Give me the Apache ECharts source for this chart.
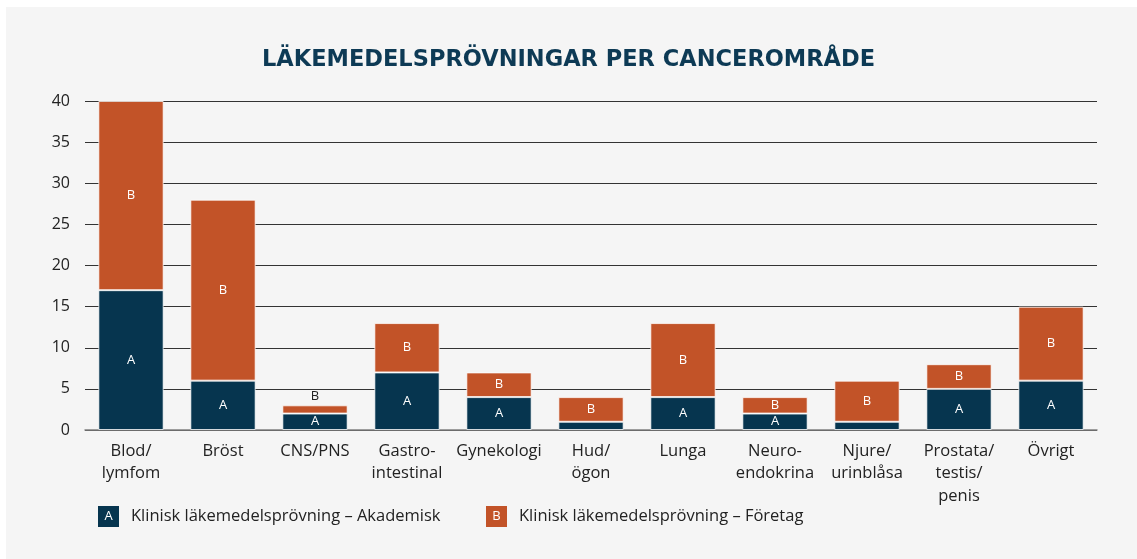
<!DOCTYPE html>
<html>
<head>
<meta charset="utf-8">
<script src="https://cdn.jsdelivr.net/npm/echarts@6/dist/echarts.min.js"></script>
<style>
html,body{margin:0;padding:0;background:#ffffff;}
#panel{position:absolute;left:6px;top:7px;width:1131px;height:552px;background:#f5f5f5;}
#chart{position:absolute;left:0;top:0;width:1137px;height:559px;}
</style>
</head>
<body>
<div id="panel"></div>
<div id="chart"></div>
<script>
const titleText = 'LÄKEMEDELSPRÖVNINGAR PER CANCEROMRÅDE';
const categories = ['Blod/\nlymfom', 'Bröst', 'CNS/PNS', 'Gastro-\nintestinal', 'Gynekologi', 'Hud/\nögon', 'Lunga', 'Neuro-\nendokrina', 'Njure/\nurinblåsa', 'Prostata/\ntestis/\npenis', 'Övrigt'];
const akademisk = [17, 6, 2, 7, 4, 1, 4, 2, 1, 5, 6];
const foretag = [23, 22, 1, 6, 3, 3, 9, 2, 5, 3, 9];
const seriesNames = ['Klinisk läkemedelsprövning – Akademisk', 'Klinisk läkemedelsprövning – Företag'];
const seriesLetters = ['A', 'B'];
const yTicks = [0, 5, 10, 15, 20, 25, 30, 35, 40];

const NAVY = '#06354f';
const ORANGE = '#c25328';
const FONT = 'Open Sans';

function mkData(vals, letter) {
  return vals.map((v, i) => {
    const item = { value: v };
    if (letter === 'A' && v < 2) item.label = { show: false };
    if (letter === 'B' && v < 2) item.label = { position: 'top', color: '#222', distance: 3 };
    return item;
  });
}

function legendFor(idx, left) {
  const color = idx === 0 ? NAVY : ORANGE;
  return {
    left: left, top: 501, icon: 'none', itemWidth: 0, itemHeight: 0, itemGap: 0,
    data: [seriesNames[idx]],
    selectedMode: false,
    formatter: function (name) { return '{box|' + seriesLetters[idx] + '}{t|' + name + '}'; },
    textStyle: {
      rich: {
        box: { backgroundColor: color, color: '#fff', width: 21, height: 21, lineHeight: 21, align: 'center', fontSize: 13, fontFamily: FONT },
        t: { color: '#222', fontSize: 16.5, fontFamily: FONT, padding: [0, 0, 0, 12] }
      }
    }
  };
}

const chart = echarts.init(document.getElementById('chart'), null, { renderer: 'canvas' });
chart.setOption({
  backgroundColor: 'transparent',
  animation: false,
  title: {
    text: titleText, left: 'center', top: 44,
    textStyle: { color: '#0d3a55', fontSize: 22.5, fontWeight: 'bold', fontFamily: 'DejaVu Sans' }
  },
  legend: [legendFor(0, 88), legendFor(1, 476)],
  grid: { left: 85, right: 40, top: 101, bottom: 129 },
  xAxis: {
    type: 'category', data: categories,
    axisTick: { show: false },
    axisLine: { show: true, lineStyle: { color: '#808080', width: 1.5 } },
    axisLabel: { color: '#222', fontSize: 16.5, fontFamily: FONT, margin: 10, lineHeight: 22.5, interval: 0 }
  },
  yAxis: {
    type: 'value', min: 0, max: 40, interval: 5,
    axisLine: { show: false }, axisTick: { show: false },
    axisLabel: { color: '#222', fontSize: 16, fontFamily: FONT, margin: 15,
      formatter: v => yTicks.includes(v) ? String(v) : '' },
    splitLine: { show: true, lineStyle: { color: '#333', width: 1 } }
  },
  series: [
    {
      name: seriesNames[0], type: 'bar', stack: 'total', barWidth: '71%',
      data: mkData(akademisk, 'A'),
      itemStyle: { color: NAVY, borderColor: 'rgba(255,255,255,0.75)', borderWidth: 1 },
      label: { show: true, position: 'inside', formatter: 'A', color: '#fff', fontSize: 13, fontFamily: FONT }
    },
    {
      name: seriesNames[1], type: 'bar', stack: 'total', barWidth: '71%',
      data: mkData(foretag, 'B'),
      itemStyle: { color: ORANGE, borderColor: 'rgba(255,255,255,0.75)', borderWidth: 1 },
      label: { show: true, position: 'inside', formatter: 'B', color: '#fff', fontSize: 13, fontFamily: FONT }
    }
  ]
});
</script>
</body>
</html>
